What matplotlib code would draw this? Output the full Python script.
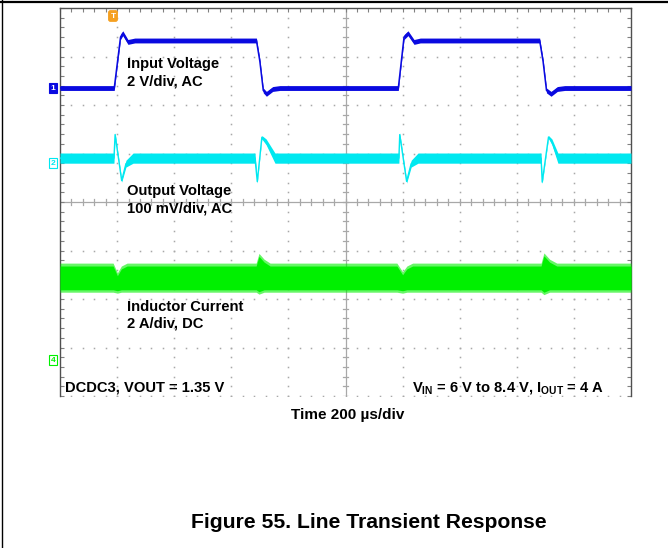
import matplotlib
matplotlib.use("Agg")
import matplotlib.pyplot as plt
import matplotlib.transforms as mtransforms
import numpy as np

plt.rcParams["font.family"] = ["Liberation Sans", "DejaVu Sans"]
plt.rcParams["mathtext.fontset"] = "custom"
plt.rcParams["mathtext.bf"] = "Liberation Sans:bold"
plt.rcParams["mathtext.rm"] = "Liberation Sans"

# screen: 10 div x 200 us, 8 vertical div (values in screen divisions)
# CH1 input voltage (centre of trace)
t1 = [0, 190, 212, 220, 238, 262, 688, 700, 712, 723, 745, 770,
      1185, 1205, 1219, 1240, 1262, 1680, 1692, 1704, 1720, 1742, 1768, 2000]
v1 = [6.35, 6.35, 7.40, 7.48, 7.30, 7.33, 7.33, 6.90, 6.30, 6.23, 6.33, 6.35,
      6.35, 7.40, 7.48, 7.30, 7.33, 7.33, 6.90, 6.30, 6.23, 6.33, 6.35, 6.35]

# CH2 output voltage envelope (low / high edge of the noisy trace)
t2 = [0, 189, 193, 216, 231, 256, 683, 691, 707, 722, 753,
      1187, 1190, 1214, 1230, 1254, 1685, 1689, 1711, 1723, 1744, 2000]
v2_lo = [4.80, 4.80, 5.35, 4.41, 4.72, 4.80, 4.80, 4.39, 5.30, 5.18, 4.80,
         4.80, 5.35, 4.39, 4.72, 4.80, 4.80, 4.38, 5.31, 5.18, 4.80, 4.80]
v2_hi = [5.01, 5.01, 5.43, 4.47, 4.86, 5.01, 5.01, 4.45, 5.37, 5.30, 5.01,
         5.01, 5.43, 4.46, 4.86, 5.01, 5.01, 4.44, 5.37, 5.30, 5.01, 5.01]

# CH4 inductor current envelope (ripple band)
t4 = [0, 186, 201, 215, 235, 687, 697, 715, 736,
      1180, 1200, 1215, 1235, 1685, 1695, 1715, 1740, 2000]
v4_lo = [2.14, 2.14, 2.12, 2.14, 2.14, 2.14, 2.10, 2.14, 2.14,
         2.14, 2.12, 2.14, 2.14, 2.14, 2.09, 2.14, 2.14, 2.14]
v4_hi = [2.74, 2.74, 2.54, 2.68, 2.74, 2.74, 2.94, 2.82, 2.74,
         2.74, 2.56, 2.68, 2.74, 2.74, 2.95, 2.82, 2.74, 2.74]

ch_markers = [("1", 6.35), ("2", 4.80), ("4", 0.74)]

BLUE = "#0a0ae0"
CYAN = "#00e8f0"
GREEN = "#00f000"
ORANGE = "#f5a020"
GRID = "#a8a8a8"

W, H = 668, 548
fig = plt.figure(figsize=(W / 100, H / 100), dpi=100)
ax = fig.add_axes([60 / W, (H - 396) / H, 571 / W, 388 / H])
ax.set_xlim(0, 2000)
ax.set_ylim(0, 8)


def px(x, y):
    return x / W, 1 - y / H


# graticule dots
for gx in range(200, 2000, 200):
    if gx == 1000:
        continue
    yy = np.arange(0, 8.01, 0.2)
    ax.plot([gx] * len(yy), yy, ls="none", marker="s", ms=1.1, mew=0, color=GRID, zorder=1)
for gy in range(0, 8):
    if gy == 4:
        continue
    xx = np.arange(0, 2001, 40)
    ax.plot(xx, [gy] * len(xx), ls="none", marker="s", ms=1.1, mew=0, color=GRID, zorder=1)

# centre cross with small ticks
ax.axhline(4, color=GRID, lw=0.9, zorder=1)
ax.axvline(1000, color=GRID, lw=0.9, zorder=1)
for xx in np.arange(0, 2001, 40):
    ax.plot([xx, xx], [3.94, 4.06], color=GRID, lw=0.9, zorder=1)
for yy in np.arange(0, 8.01, 0.2):
    ax.plot([990, 1010], [yy, yy], color=GRID, lw=0.9, zorder=1)

# border
for side in ["left", "top", "right"]:
    ax.spines[side].set_color("#505050")
    ax.spines[side].set_linewidth(1.0)
ax.spines["bottom"].set_visible(False)
ax.set_xticks(np.arange(0, 2001, 200))
ax.set_xticks(np.arange(0, 2001, 40), minor=True)
ax.set_yticks(np.arange(0, 8.01, 1))
ax.set_yticks(np.arange(0, 8.01, 0.2), minor=True)
ax.tick_params(which="both", direction="in", length=3, width=0.8, color="#808080",
               top=True, right=True, bottom=False, labelbottom=False, labelleft=False)

# traces
v1 = np.array(v1)
ax.fill_between(t1, v1 - 0.05, v1 + 0.05, color=BLUE, lw=0, zorder=3)
ax.plot(t1, v1, color=BLUE, lw=1.1, zorder=3)

ax.fill_between(t2, v2_lo, v2_hi, color=CYAN, lw=0, zorder=3)
ax.plot(t2, (np.array(v2_lo) + np.array(v2_hi)) / 2, color=CYAN, lw=1.0, zorder=3)

ax.fill_between(t4, v4_lo, v4_hi, color=GREEN, lw=0, alpha=0.6, zorder=3)
ax.fill_between(t4, np.array(v4_lo) + 0.05, np.array(v4_hi) - 0.06, color=GREEN, lw=0, zorder=3)

# channel markers on the left edge
trans = mtransforms.blended_transform_factory(ax.transAxes, ax.transData)
colors = {"1": BLUE, "2": CYAN, "4": GREEN}
for name, lvl in ch_markers:
    c = colors[name]
    filled = name == "1"
    ax.text(-0.008, lvl, name, transform=trans, ha="right", va="center",
            fontsize=6, color="white" if filled else c, fontweight="bold",
            bbox=dict(boxstyle="square,pad=0.15", fc=c if filled else "white", ec=c, lw=0.8),
            zorder=5, clip_on=False)

# trigger marker
fig.text(*px(113, 16), "T", ha="center", va="center", fontsize=6, color="white",
         fontweight="bold", bbox=dict(boxstyle="round,pad=0.2", fc=ORANGE, ec=ORANGE))

# labels
lab = dict(fontsize=10.6, fontweight="bold", color="black", va="baseline")
fig.text(*px(127, 68), "Input Voltage", **lab)
fig.text(*px(127, 86), "2 V/div, AC", **lab)
fig.text(*px(127, 195), "Output Voltage", **lab)
fig.text(*px(127, 212), "100 mV/div, AC", **lab)
fig.text(*px(127, 311), "Inductor Current", **lab)
fig.text(*px(127, 328), "2 A/div, DC", **lab)
fig.text(*px(65, 391), "DCDC3, VOUT = 1.35 V", **lab)
fig.text(*px(604, 391), r"$\mathbf{V_{IN}}$ = 6 V to 8.4 V, $\mathbf{I_{OUT}}$ = 4 A",
         ha="right", **lab)
fig.text(*px(348, 419), "Time 200 µs/div", ha="center", fontsize=11, fontweight="bold",
         va="baseline")
fig.text(*px(369, 528), "Figure 55. Line Transient Response", ha="center", fontsize=15.2,
         fontweight="bold", va="baseline")

# page frame lines
fig.add_artist(plt.Line2D([0, 1], [1 - 1.5 / H, 1 - 1.5 / H], color="black", lw=1.6))
fig.add_artist(plt.Line2D([1.5 / W, 1.5 / W], [0, 1], color="black", lw=1.0))

fig.savefig("out.png", dpi=100)
